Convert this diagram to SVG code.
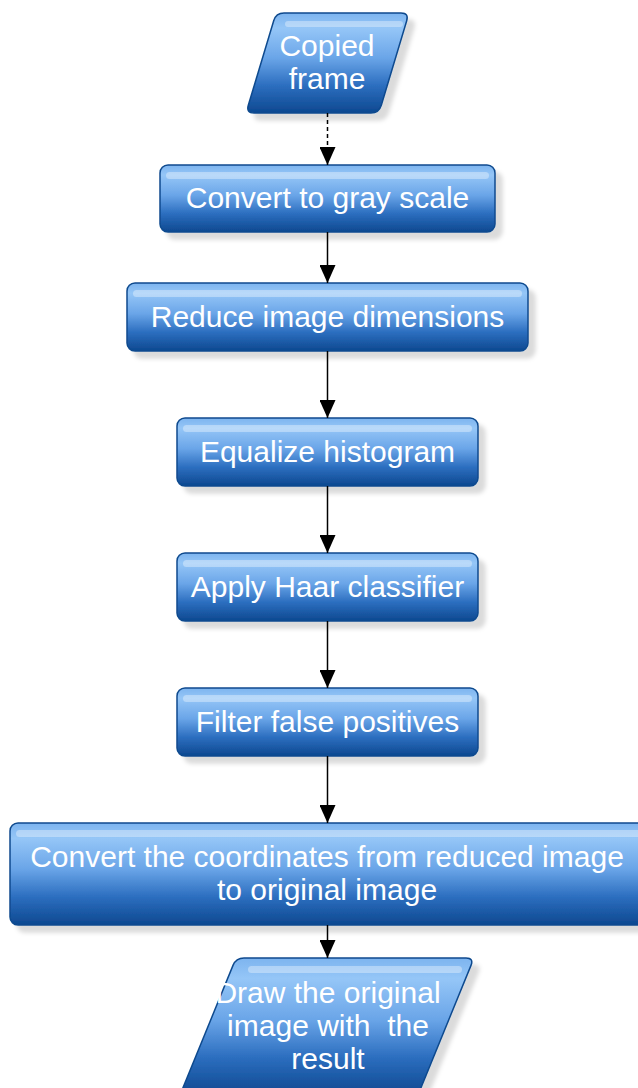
<svg xmlns="http://www.w3.org/2000/svg" width="638" height="1088" viewBox="0 0 638 1088">
<style>
.shape{fill:url(#grad);stroke:#0f4a8e;stroke-width:1.5;filter:url(#shadow)}
.hl{fill:#ffffff;fill-opacity:0.35}
.lbl{font-family:"Liberation Sans",Arial,sans-serif;font-size:30px;fill:#ffffff;text-anchor:middle}
.conn{stroke:#000;stroke-width:1.5;fill:none}
</style>
<defs>
<linearGradient id="grad" x1="0" y1="0" x2="0" y2="1">
<stop offset="0" stop-color="#7db4ef"/>
<stop offset="0.15" stop-color="#95c6f7"/>
<stop offset="0.45" stop-color="#6aa5e8"/>
<stop offset="0.72" stop-color="#2d6fc0"/>
<stop offset="1" stop-color="#0d4890"/>
</linearGradient>
<filter id="shadow" x="-10%" y="-10%" width="130%" height="140%">
<feDropShadow dx="7" dy="7" stdDeviation="2" flood-color="#000" flood-opacity="0.14"/>
</filter>
<marker id="arr" viewBox="0 0 18 16" refX="18" refY="8" markerWidth="18" markerHeight="16" markerUnits="userSpaceOnUse" orient="auto">
<path d="M0,0 L18,8 L0,16 Z" fill="#000"/>
</marker>
</defs>
<g id="node-copied-frame">
<path class="shape" d="M284,13 L401,13 Q409,13 406.7,20.7 L381.3,105.3 Q379,113 371,113 L254,113 Q246,113 248.3,105.3 L273.7,20.7 Q276,13 284,13 Z"/>
<rect class="hl" x="285" y="21" width="118" height="6" rx="3"/>
<text class="lbl" x="327" y="56">Copied</text>
<text class="lbl" x="327" y="89">frame</text>
</g>
<g id="node-gray">
<rect class="shape" x="160" y="165" width="335" height="67" rx="8"/>
<rect class="hl" x="166" y="172" width="323" height="7" rx="3.5"/>
<text class="lbl" x="327.5" y="208">Convert to gray scale</text>
</g>
<g id="node-reduce">
<rect class="shape" x="127" y="283" width="401" height="68" rx="8"/>
<rect class="hl" x="133" y="290" width="389" height="7" rx="3.5"/>
<text class="lbl" x="327.5" y="327">Reduce image dimensions</text>
</g>
<g id="node-equalize">
<rect class="shape" x="177" y="418" width="301" height="68" rx="8"/>
<rect class="hl" x="183" y="425" width="289" height="7" rx="3.5"/>
<text class="lbl" x="327.5" y="462">Equalize histogram</text>
</g>
<g id="node-haar">
<rect class="shape" x="177" y="553" width="301" height="68" rx="8"/>
<rect class="hl" x="183" y="560" width="289" height="7" rx="3.5"/>
<text class="lbl" x="327.5" y="597">Apply Haar classifier</text>
</g>
<g id="node-filter">
<rect class="shape" x="177" y="688" width="301" height="68" rx="8"/>
<rect class="hl" x="183" y="695" width="289" height="7" rx="3.5"/>
<text class="lbl" x="327.5" y="732">Filter false positives</text>
</g>
<g id="node-convert-coords">
<rect class="shape" x="10" y="823" width="640" height="102" rx="8"/>
<rect class="hl" x="16" y="830" width="628" height="7" rx="3.5"/>
<text class="lbl" x="327" y="867">Convert the coordinates from reduced image</text>
<text class="lbl" x="327" y="900">to original image</text>
</g>
<g id="node-draw">
<path class="shape" d="M244,958 L466,958 Q474,958 471,965.4 L418,1095 L180,1095 L233,965.4 Q236,958 244,958 Z"/>
<rect class="hl" x="248" y="966" width="214" height="7" rx="3.5"/>
<text class="lbl" x="328" y="1003">Draw the original</text>
<text class="lbl" x="328" y="1036" xml:space="preserve">image with  the</text>
<text class="lbl" x="328" y="1069">result</text>
</g>
<g id="connectors">
<line class="conn" x1="327.5" y1="113" x2="327.5" y2="165" stroke-dasharray="4,3" marker-end="url(#arr)"/>
<line class="conn" x1="327.5" y1="232" x2="327.5" y2="283" marker-end="url(#arr)"/>
<line class="conn" x1="327.5" y1="351" x2="327.5" y2="418" marker-end="url(#arr)"/>
<line class="conn" x1="327.5" y1="486" x2="327.5" y2="553" marker-end="url(#arr)"/>
<line class="conn" x1="327.5" y1="621" x2="327.5" y2="688" marker-end="url(#arr)"/>
<line class="conn" x1="327.5" y1="756" x2="327.5" y2="823" marker-end="url(#arr)"/>
<line class="conn" x1="327.5" y1="925" x2="327.5" y2="958" marker-end="url(#arr)"/>
</g>
</svg>
